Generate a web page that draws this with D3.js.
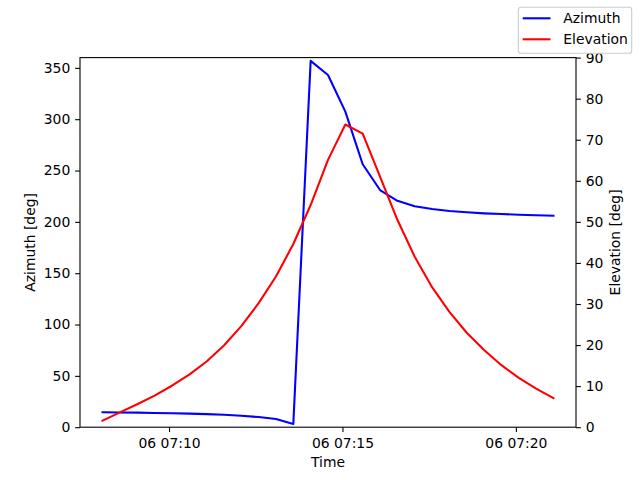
<!DOCTYPE html>
<html>
<head>
<meta charset="utf-8">
<script src="https://cdn.jsdelivr.net/npm/d3@7"></script>
<style>
  body { margin: 0; background: #fff; }
  svg text { font-family: "DejaVu Sans", sans-serif; }
</style>
</head>
<body>
<svg id="chart" width="640" height="480"></svg>
<script>
"use strict";

// sample times (day 06), one every 30 s
const day = "2021-01-06";
const times = ["07:08:05", "07:08:35", "07:09:05", "07:09:35", "07:10:05", "07:10:35",
  "07:11:05", "07:11:35", "07:12:05", "07:12:35", "07:13:05", "07:13:35",
  "07:14:05", "07:14:35", "07:15:05", "07:15:35", "07:16:05", "07:16:35",
  "07:17:05", "07:17:35", "07:18:05", "07:18:35", "07:19:05", "07:19:35",
  "07:20:05", "07:20:35", "07:21:05"];
const azimuth = [14.6, 14.4, 14.2, 13.9, 13.6, 13.2, 12.7, 12.1, 11.2, 9.9, 8.0, 3.2,
  356.8, 343.1, 307.4, 256.1, 231.0, 220.5, 215.2, 212.5, 210.6, 209.3, 208.3,
  207.6, 207.0, 206.5, 206.0];
const elevation = [1.6, 3.6, 5.6, 7.7, 10.1, 12.8, 16.0, 19.9, 24.6, 30.2, 36.7, 44.6,
  54.1, 65.1, 73.7, 71.5, 61.0, 50.5, 41.5, 34.1, 28.1, 23.0, 18.8, 15.1, 12.0, 9.4, 7.1];
const xTicks = ["07:10:00", "07:15:00", "07:20:00"];
const azTicks = [0, 50, 100, 150, 200, 250, 300, 350];
const elTicks = [0, 10, 20, 30, 40, 50, 60, 70, 80, 90];
const seriesNames = ["Azimuth", "Elevation"];
const seriesColors = ["blue", "red"];

const parse = d3.timeParse("%Y-%m-%d %H:%M:%S");
const dates = times.map(t => parse(day + " " + t));

const plotLeft = 80, plotRight = 576, plotTop = 57.6, plotBottom = 427.2;
const fontSize = 13.9;
const tickLen = 4.86;

const svg = d3.select("#chart");
svg.append("rect").attr("width", 640).attr("height", 480).attr("fill", "#fff");

// 5% margin on the time axis, like matplotlib
const ext = d3.extent(dates);
const pad = (ext[1] - ext[0]) * 0.05;
const x = d3.scaleTime()
  .domain([new Date(+ext[0] - pad), new Date(+ext[1] + pad)])
  .range([plotLeft, plotRight]);
const yAz = d3.scaleLinear().domain([0, 360]).range([plotBottom, plotTop]);
const yEl = d3.scaleLinear().domain([0, 90]).range([plotBottom, plotTop]);

function styleAxis(g) {
  g.select(".domain").remove();
  g.selectAll(".tick line").attr("stroke", "#000").attr("stroke-width", 1.1);
  g.selectAll("text")
    .attr("fill", "#000")
    .style("font-family", "DejaVu Sans, sans-serif")
    .style("font-size", fontSize + "px");
}

svg.append("g")
  .attr("transform", `translate(0,${plotBottom})`)
  .call(d3.axisBottom(x)
    .tickValues(xTicks.map(t => parse(day + " " + t)))
    .tickFormat(d3.timeFormat("%d %H:%M"))
    .tickSize(tickLen).tickPadding(6).tickSizeOuter(0))
  .call(styleAxis);

svg.append("g")
  .attr("transform", `translate(${plotLeft},0)`)
  .call(d3.axisLeft(yAz).tickValues(azTicks)
    .tickSize(tickLen).tickPadding(4.9).tickSizeOuter(0))
  .call(styleAxis);

svg.append("g")
  .attr("transform", `translate(${plotRight},0)`)
  .call(d3.axisRight(yEl).tickValues(elTicks)
    .tickSize(tickLen).tickPadding(4.9).tickSizeOuter(0))
  .call(styleAxis);

// lines
const azLine = d3.line().x((d, i) => x(dates[i])).y(d => yAz(d));
const elLine = d3.line().x((d, i) => x(dates[i])).y(d => yEl(d));

svg.append("path").datum(azimuth)
  .attr("d", azLine)
  .attr("fill", "none").attr("stroke", seriesColors[0])
  .attr("stroke-width", 2.08).attr("stroke-linejoin", "round").attr("stroke-linecap", "square");
svg.append("path").datum(elevation)
  .attr("d", elLine)
  .attr("fill", "none").attr("stroke", seriesColors[1])
  .attr("stroke-width", 2.08).attr("stroke-linejoin", "round").attr("stroke-linecap", "square");

// frame
svg.append("rect")
  .attr("x", plotLeft).attr("y", plotTop)
  .attr("width", plotRight - plotLeft).attr("height", plotBottom - plotTop)
  .attr("fill", "none").attr("stroke", "#000").attr("stroke-width", 1.1);

// axis labels
svg.append("text")
  .attr("x", (plotLeft + plotRight) / 2).attr("y", 466.5)
  .attr("text-anchor", "middle").style("font-size", fontSize + "px")
  .text("Time");
svg.append("text")
  .attr("transform", `translate(35,${(plotTop + plotBottom) / 2}) rotate(-90)`)
  .attr("text-anchor", "middle").style("font-size", fontSize + "px")
  .text("Azimuth [deg]");
svg.append("text")
  .attr("transform", `translate(619.5,${(plotTop + plotBottom) / 2}) rotate(-90)`)
  .attr("text-anchor", "middle").style("font-size", fontSize + "px")
  .text("Elevation [deg]");

// legend, upper right of the figure
const legend = svg.append("g");
legend.append("rect")
  .attr("x", 518.3).attr("y", 7.3)
  .attr("width", 113.4).attr("height", 46)
  .attr("rx", 2.8)
  .attr("fill", "#fff").attr("stroke", "#ccc").attr("stroke-width", 1.1);
seriesNames.forEach((name, i) => {
  const cy = 18.3 + i * 21;
  legend.append("line")
    .attr("x1", 522.7).attr("x2", 550.5)
    .attr("y1", cy).attr("y2", cy)
    .attr("stroke", seriesColors[i]).attr("stroke-width", 2.08);
  legend.append("text")
    .attr("x", 563.3).attr("y", cy + 5)
    .style("font-size", fontSize + "px")
    .text(name);
});
</script>
</body>
</html>
